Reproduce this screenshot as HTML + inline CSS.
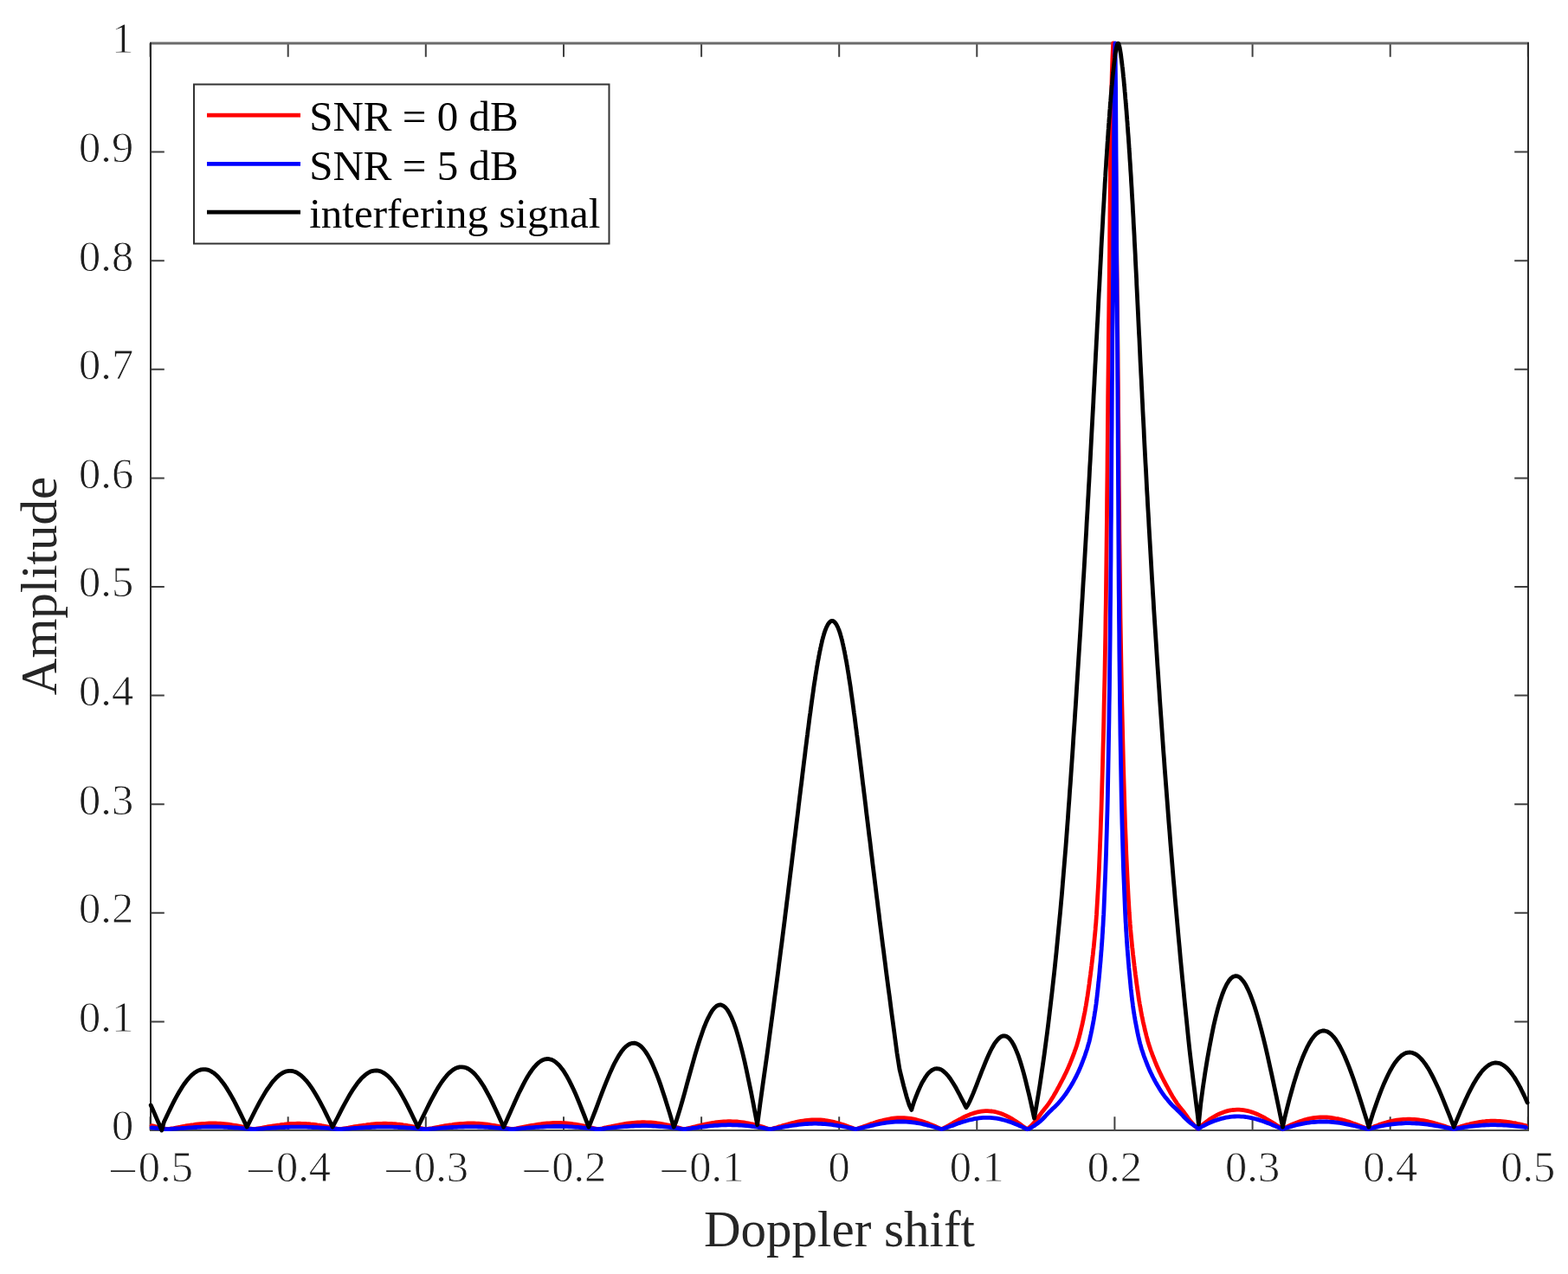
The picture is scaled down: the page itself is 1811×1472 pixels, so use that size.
<!DOCTYPE html>
<html><head><meta charset="utf-8"><title>Doppler shift amplitude</title>
<style>
html,body{margin:0;padding:0;background:#fff;}
body{width:1811px;height:1472px;overflow:hidden;}
svg{display:block;}
.tk{font-family:"Liberation Serif","DejaVu Serif",serif;font-size:50.5px;fill:#1e1e1e;stroke:#fff;stroke-width:0.8px;paint-order:fill;}
.lg{font-family:"Liberation Serif","DejaVu Serif",serif;font-size:49px;fill:#000;}
.lb{font-family:"Liberation Serif","DejaVu Serif",serif;font-size:59px;fill:#262626;}
</style></head>
<body>
<svg width="1811" height="1472" viewBox="0 0 1811 1472">
<rect width="1811" height="1472" fill="#fff"/>
<g fill="none" stroke="#404040" stroke-width="2">
<path d="M173.6 1306V1290.2M173.6 50V65.8M332.7 1306V1290.2M332.7 50V65.8M491.8 1306V1290.2M491.8 50V65.8M651.0 1306V1290.2M651.0 50V65.8M810.1 1306V1290.2M810.1 50V65.8M969.2 1306V1290.2M969.2 50V65.8M1128.3 1306V1290.2M1128.3 50V65.8M1287.4 1306V1290.2M1287.4 50V65.8M1446.6 1306V1290.2M1446.6 50V65.8M1605.7 1306V1290.2M1605.7 50V65.8M1764.8 1306V1290.2M1764.8 50V65.8M174 1306.0H189.8M1765 1306.0H1749.2M174 1180.4H189.8M1765 1180.4H1749.2M174 1054.8H189.8M1765 1054.8H1749.2M174 929.2H189.8M1765 929.2H1749.2M174 803.6H189.8M1765 803.6H1749.2M174 678.0H189.8M1765 678.0H1749.2M174 552.4H189.8M1765 552.4H1749.2M174 426.8H189.8M1765 426.8H1749.2M174 301.2H189.8M1765 301.2H1749.2M174 175.6H189.8M1765 175.6H1749.2M174 50.0H189.8M1765 50.0H1749.2"/>
</g>
<path fill="none" stroke="#6b6b6b" stroke-width="3" d="M173 50H1766"/>
<path fill="none" stroke="#2b2b2b" stroke-width="2" d="M174 49V1307M1765 49V1307"/>
<path fill="none" stroke="#4a4a4a" stroke-width="2" d="M173 1306H1766"/>
<g fill="none" stroke-linejoin="round" stroke-linecap="round" stroke-width="4.8">
<path stroke="#ff0000" d="M175.1 1300.7L177.7 1301.2L180.2 1301.8L182.8 1302.3L185.3 1302.9L187.9 1303.5L190.4 1304.1L193.0 1304.7L195.6 1304.4L198.1 1303.9L200.7 1303.5L203.2 1303.0L205.8 1302.5L208.3 1302.1L210.9 1301.6L213.4 1301.2L216.0 1300.7L218.5 1300.3L221.1 1299.9L223.6 1299.6L226.2 1299.2L228.7 1298.9L231.3 1298.7L233.8 1298.5L236.4 1298.3L238.9 1298.1L241.5 1298.0L244.0 1298.0L246.6 1298.0L249.1 1298.0L251.7 1298.1L254.2 1298.2L256.8 1298.4L259.3 1298.6L261.9 1298.9L264.4 1299.2L267.0 1299.6L269.5 1300.0L272.1 1300.4L274.6 1300.9L277.2 1301.4L279.7 1301.9L282.3 1302.4L284.8 1303.0L287.4 1303.6L289.9 1304.1L292.5 1304.7L295.1 1304.4L297.6 1303.9L300.2 1303.5L302.7 1303.1L305.3 1302.6L307.8 1302.2L310.4 1301.7L312.9 1301.3L315.5 1300.9L318.0 1300.5L320.6 1300.1L323.1 1299.8L325.7 1299.4L328.2 1299.2L330.8 1298.9L333.3 1298.7L335.9 1298.5L338.4 1298.4L341.0 1298.3L343.5 1298.2L346.1 1298.2L348.6 1298.3L351.2 1298.3L353.7 1298.5L356.3 1298.6L358.8 1298.9L361.4 1299.1L363.9 1299.4L366.5 1299.8L369.0 1300.1L371.6 1300.6L374.1 1301.0L376.7 1301.5L379.2 1302.0L381.8 1302.5L384.3 1303.0L386.9 1303.6L389.4 1304.2L392.0 1304.7L394.6 1304.4L397.1 1303.9L399.7 1303.5L402.2 1303.1L404.8 1302.6L407.3 1302.2L409.9 1301.7L412.4 1301.3L415.0 1300.9L417.5 1300.5L420.1 1300.1L422.6 1299.8L425.2 1299.4L427.7 1299.2L430.3 1298.9L432.8 1298.7L435.4 1298.5L437.9 1298.4L440.5 1298.3L443.0 1298.2L445.6 1298.2L448.1 1298.3L450.7 1298.3L453.2 1298.5L455.8 1298.6L458.3 1298.9L460.9 1299.1L463.4 1299.4L466.0 1299.8L468.5 1300.1L471.1 1300.6L473.6 1301.0L476.2 1301.5L478.7 1302.0L481.3 1302.5L483.8 1303.0L486.4 1303.6L488.9 1304.2L491.5 1304.7L494.1 1304.4L496.6 1303.9L499.2 1303.5L501.7 1303.0L504.3 1302.5L506.8 1302.1L509.4 1301.6L511.9 1301.2L514.5 1300.7L517.0 1300.3L519.6 1299.9L522.1 1299.6L524.7 1299.2L527.2 1298.9L529.8 1298.7L532.3 1298.5L534.9 1298.3L537.4 1298.1L540.0 1298.0L542.5 1298.0L545.1 1298.0L547.6 1298.0L550.2 1298.1L552.7 1298.2L555.3 1298.4L557.8 1298.6L560.4 1298.9L562.9 1299.2L565.5 1299.6L568.0 1300.0L570.6 1300.4L573.1 1300.9L575.7 1301.4L578.2 1301.9L580.8 1302.4L583.3 1303.0L585.9 1303.6L588.4 1304.1L591.0 1304.7L593.6 1304.3L596.1 1303.9L598.7 1303.4L601.2 1302.9L603.8 1302.4L606.3 1301.9L608.9 1301.4L611.4 1300.9L614.0 1300.4L616.5 1300.0L619.1 1299.6L621.6 1299.2L624.2 1298.8L626.7 1298.5L629.3 1298.2L631.8 1298.0L634.4 1297.8L636.9 1297.6L639.5 1297.5L642.0 1297.5L644.6 1297.5L647.1 1297.5L649.7 1297.6L652.2 1297.7L654.8 1297.9L657.3 1298.2L659.9 1298.5L662.4 1298.8L665.0 1299.2L667.5 1299.6L670.1 1300.1L672.6 1300.6L675.2 1301.1L677.7 1301.7L680.3 1302.2L682.8 1302.9L685.4 1303.5L687.9 1304.1L690.5 1304.7L693.1 1304.3L695.6 1303.8L698.2 1303.2L700.7 1302.7L703.3 1302.1L705.8 1301.6L708.4 1301.0L710.9 1300.5L713.5 1300.0L716.0 1299.5L718.6 1299.0L721.1 1298.6L723.7 1298.2L726.2 1297.9L728.8 1297.6L731.3 1297.3L733.9 1297.1L736.4 1296.9L739.0 1296.8L741.5 1296.7L744.1 1296.7L746.6 1296.8L749.2 1296.9L751.7 1297.0L754.3 1297.2L756.8 1297.5L759.4 1297.8L761.9 1298.2L764.5 1298.6L767.0 1299.1L769.6 1299.6L772.1 1300.1L774.7 1300.7L777.2 1301.3L779.8 1302.0L782.3 1302.7L784.9 1303.3L787.4 1304.0L790.0 1304.7L792.6 1304.2L795.1 1303.6L797.7 1303.0L800.2 1302.4L802.8 1301.8L805.3 1301.2L807.9 1300.6L810.4 1300.0L813.0 1299.4L815.5 1298.8L818.1 1298.3L820.6 1297.8L823.2 1297.4L825.7 1297.0L828.3 1296.7L830.8 1296.4L833.4 1296.1L835.9 1295.9L838.5 1295.8L841.0 1295.7L843.6 1295.7L846.1 1295.8L848.7 1295.9L851.2 1296.0L853.8 1296.3L856.3 1296.6L858.9 1296.9L861.4 1297.4L864.0 1297.8L866.5 1298.4L869.1 1298.9L871.6 1299.6L874.2 1300.2L876.7 1300.9L879.3 1301.6L881.8 1302.4L884.4 1303.2L886.9 1304.0L889.5 1304.7L892.0 1304.1L894.6 1303.4L897.1 1302.7L899.6 1301.9L902.2 1301.2L904.7 1300.4L907.2 1299.7L909.7 1299.0L912.3 1298.3L914.8 1297.6L917.3 1297.0L919.9 1296.4L922.4 1295.9L924.9 1295.4L927.5 1295.0L930.0 1294.6L932.5 1294.3L935.1 1294.1L937.6 1293.9L940.1 1293.8L942.6 1293.8L945.2 1293.9L947.7 1294.0L950.2 1294.2L952.8 1294.5L955.3 1294.9L957.8 1295.3L960.4 1295.8L962.9 1296.4L965.4 1297.0L968.0 1297.7L970.5 1298.5L973.0 1299.3L975.5 1300.1L978.1 1301.0L980.6 1301.9L983.1 1302.8L985.7 1303.8L988.2 1304.7L990.7 1304.0L993.3 1303.1L995.8 1302.2L998.4 1301.3L1000.9 1300.4L1003.5 1299.5L1006.0 1298.6L1008.6 1297.8L1011.1 1296.9L1013.7 1296.1L1016.2 1295.4L1018.8 1294.7L1021.3 1294.0L1023.8 1293.5L1026.4 1293.0L1028.9 1292.5L1031.5 1292.2L1034.0 1291.9L1036.6 1291.7L1039.1 1291.6L1041.7 1291.6L1044.2 1291.6L1046.8 1291.8L1049.3 1292.1L1051.9 1292.4L1054.4 1292.8L1056.9 1293.4L1059.5 1294.0L1062.0 1294.7L1064.6 1295.4L1067.1 1296.3L1069.7 1297.2L1072.2 1298.1L1074.8 1299.2L1077.3 1300.2L1079.9 1301.3L1082.4 1302.4L1085.0 1303.6L1087.5 1304.7L1090.0 1303.5L1092.6 1302.2L1095.1 1300.8L1097.6 1299.3L1100.2 1297.9L1102.7 1296.4L1105.2 1295.0L1107.8 1293.6L1110.3 1292.3L1112.8 1291.0L1115.4 1289.8L1117.9 1288.7L1120.4 1287.6L1123.0 1286.7L1125.5 1285.9L1128.0 1285.2L1130.6 1284.6L1133.1 1284.2L1135.6 1283.8L1138.2 1283.7L1140.7 1283.7L1143.2 1283.8L1145.8 1284.0L1148.3 1284.4L1150.8 1285.0L1153.4 1285.7L1155.9 1286.5L1158.4 1287.5L1161.0 1288.6L1163.5 1289.9L1166.0 1291.2L1168.6 1292.6L1171.1 1294.2L1173.6 1295.8L1176.2 1297.5L1178.7 1299.3L1181.2 1301.1L1183.8 1302.9L1186.3 1304.7L1187.4 1304.1L1189.6 1302.0L1191.8 1299.9L1193.7 1297.8L1195.6 1295.7L1197.2 1293.6L1198.8 1291.5L1200.2 1289.5L1201.7 1287.4L1203.2 1285.3L1204.9 1283.2L1206.6 1281.1L1208.3 1279.0L1209.9 1276.9L1211.4 1274.8L1212.9 1272.7L1214.2 1270.6L1215.5 1268.5L1216.8 1266.4L1218.0 1264.3L1219.2 1262.2L1220.4 1260.1L1221.5 1258.0L1222.7 1255.9L1223.8 1253.8L1224.9 1251.7L1226.0 1249.6L1227.1 1247.5L1228.2 1245.5L1229.2 1243.4L1230.2 1241.3L1231.3 1239.2L1232.2 1237.1L1233.2 1235.0L1234.1 1232.9L1235.0 1230.8L1235.9 1228.7L1236.7 1226.6L1237.6 1224.5L1238.4 1222.4L1239.2 1220.3L1240.0 1218.2L1240.8 1216.1L1241.5 1214.0L1242.3 1211.9L1243.0 1209.8L1243.7 1207.7L1244.3 1205.6L1244.9 1203.6L1245.5 1201.5L1246.1 1199.4L1246.6 1197.3L1247.2 1195.2L1247.7 1193.1L1248.2 1191.0L1248.7 1188.9L1249.2 1186.8L1249.7 1184.7L1250.2 1182.6L1250.6 1180.5L1251.1 1178.4L1251.5 1176.3L1251.9 1174.2L1252.3 1172.1L1252.8 1170.0L1253.2 1167.9L1253.5 1165.8L1253.9 1163.7L1254.3 1161.6L1254.6 1159.6L1255.0 1157.5L1255.3 1155.4L1255.6 1153.3L1256.0 1151.2L1256.3 1149.1L1256.6 1147.0L1256.9 1144.9L1257.2 1142.8L1257.5 1140.7L1257.8 1138.6L1258.1 1136.5L1258.3 1134.4L1258.6 1132.3L1258.9 1130.2L1259.2 1128.1L1259.5 1126.0L1259.7 1123.9L1260.0 1121.8L1260.3 1119.7L1260.5 1117.7L1260.8 1115.6L1261.0 1113.5L1261.3 1111.4L1261.5 1109.3L1261.8 1107.2L1262.0 1105.1L1262.3 1103.0L1262.5 1100.9L1262.7 1098.8L1262.9 1096.7L1263.2 1094.6L1263.4 1092.5L1263.6 1090.4L1263.8 1088.3L1264.0 1086.2L1264.2 1084.1L1264.4 1082.0L1264.6 1079.9L1264.8 1077.8L1265.0 1075.8L1265.2 1073.7L1265.3 1071.6L1265.5 1069.5L1265.7 1067.4L1265.9 1065.3L1266.0 1063.2L1266.2 1061.1L1266.3 1059.0L1266.5 1056.9L1266.6 1054.8L1267.6 1037.8L1268.6 1020.7L1269.4 1003.7L1270.1 986.7L1270.8 969.6L1271.4 952.6L1272.0 935.6L1272.5 918.6L1273.0 901.5L1273.5 884.5L1273.9 867.5L1274.4 850.4L1274.8 833.4L1275.1 816.4L1275.5 799.3L1275.9 782.3L1276.2 765.3L1276.5 748.3L1276.8 731.2L1277.0 714.2L1277.3 697.2L1277.5 680.1L1277.7 663.1L1277.9 646.1L1278.1 629.0L1278.3 612.0L1278.5 595.0L1278.6 577.9L1278.8 560.9L1279.0 543.9L1279.1 526.9L1279.3 509.8L1279.4 492.8L1279.6 475.8L1279.7 458.7L1279.9 441.7L1280.1 424.7L1280.3 407.6L1280.4 390.6L1280.6 373.6L1280.8 356.5L1281.0 339.5L1281.2 322.5L1281.4 305.5L1281.6 288.4L1281.7 271.4L1281.9 254.4L1282.1 237.3L1282.2 220.3L1282.4 203.3L1282.6 186.2L1282.9 169.2L1283.1 152.2L1283.3 135.2L1283.6 118.1L1283.9 101.1L1284.3 84.1L1284.9 67.0L1285.7 50.0L1286.5 67.0L1287.1 84.1L1287.5 101.1L1287.8 118.1L1288.0 135.2L1288.3 152.2L1288.5 169.2L1288.7 186.2L1288.9 203.3L1289.1 220.3L1289.2 237.3L1289.4 254.4L1289.6 271.4L1289.7 288.4L1289.9 305.5L1290.1 322.5L1290.2 339.5L1290.4 356.5L1290.6 373.6L1290.8 390.6L1291.0 407.6L1291.1 424.7L1291.3 441.7L1291.5 458.7L1291.6 475.8L1291.8 492.8L1291.9 509.8L1292.1 526.9L1292.2 543.9L1292.3 560.9L1292.5 577.9L1292.7 595.0L1292.8 612.0L1293.0 629.0L1293.2 646.1L1293.4 663.1L1293.6 680.1L1293.8 697.2L1294.0 714.2L1294.3 731.2L1294.6 748.3L1294.9 765.3L1295.2 782.3L1295.5 799.3L1295.9 816.4L1296.3 833.4L1296.7 850.4L1297.1 867.5L1297.5 884.5L1298.0 901.5L1298.5 918.6L1299.0 935.6L1299.5 952.6L1300.2 969.6L1300.8 986.7L1301.6 1003.7L1302.4 1020.7L1303.3 1037.8L1304.3 1054.8L1304.5 1056.9L1304.6 1059.0L1304.7 1061.1L1304.9 1063.2L1305.1 1065.3L1305.2 1067.4L1305.4 1069.5L1305.6 1071.6L1305.7 1073.7L1305.9 1075.8L1306.1 1077.8L1306.3 1079.9L1306.5 1082.0L1306.7 1084.1L1306.9 1086.2L1307.1 1088.3L1307.3 1090.4L1307.5 1092.5L1307.7 1094.6L1308.0 1096.7L1308.2 1098.8L1308.4 1100.9L1308.6 1103.0L1308.9 1105.1L1309.1 1107.2L1309.4 1109.3L1309.6 1111.4L1309.9 1113.5L1310.1 1115.6L1310.4 1117.7L1310.6 1119.7L1310.9 1121.8L1311.2 1123.9L1311.4 1126.0L1311.7 1128.1L1312.0 1130.2L1312.3 1132.3L1312.5 1134.4L1312.8 1136.5L1313.1 1138.6L1313.4 1140.7L1313.7 1142.8L1314.0 1144.9L1314.3 1147.0L1314.6 1149.1L1314.9 1151.2L1315.2 1153.3L1315.5 1155.4L1315.9 1157.5L1316.2 1159.6L1316.6 1161.6L1317.0 1163.7L1317.3 1165.8L1317.7 1167.9L1318.1 1170.0L1318.5 1172.1L1318.9 1174.2L1319.4 1176.3L1319.8 1178.4L1320.2 1180.5L1320.7 1182.6L1321.2 1184.7L1321.7 1186.8L1322.1 1188.9L1322.6 1191.0L1323.2 1193.1L1323.7 1195.2L1324.2 1197.3L1324.8 1199.4L1325.3 1201.5L1325.9 1203.6L1326.5 1205.6L1327.2 1207.7L1327.9 1209.8L1328.6 1211.9L1329.3 1214.0L1330.1 1216.1L1330.8 1218.2L1331.6 1220.3L1332.5 1222.4L1333.3 1224.5L1334.1 1226.6L1335.0 1228.7L1335.8 1230.8L1336.7 1232.9L1337.7 1235.0L1338.6 1237.1L1339.6 1239.2L1340.6 1241.3L1341.6 1243.4L1342.7 1245.5L1343.7 1247.5L1344.8 1249.6L1345.9 1251.7L1347.0 1253.8L1348.2 1255.9L1349.3 1258.0L1350.5 1260.1L1351.6 1262.2L1352.8 1264.3L1354.0 1266.4L1355.3 1268.5L1356.6 1270.6L1358.0 1272.7L1359.4 1274.8L1360.9 1276.9L1362.5 1279.0L1364.2 1281.1L1366.0 1283.2L1367.6 1285.3L1369.1 1287.4L1370.6 1289.5L1372.0 1291.5L1373.6 1293.6L1375.2 1295.7L1377.1 1297.8L1379.0 1299.9L1381.2 1302.0L1383.4 1304.1L1383.2 1304.1L1385.7 1302.3L1388.2 1300.1L1390.8 1298.1L1393.3 1296.2L1395.8 1294.3L1398.3 1292.6L1400.8 1291.1L1403.4 1289.6L1405.9 1288.2L1408.4 1287.0L1410.9 1285.9L1413.4 1285.0L1416.0 1284.1L1418.5 1283.4L1421.0 1282.9L1423.5 1282.5L1426.0 1282.3L1428.6 1282.1L1431.1 1282.2L1433.6 1282.3L1436.1 1282.6L1438.7 1283.1L1441.2 1283.6L1443.7 1284.3L1446.2 1285.1L1448.7 1286.0L1451.3 1287.0L1453.8 1288.2L1456.3 1289.4L1458.8 1290.7L1461.3 1292.0L1463.9 1293.5L1466.4 1295.0L1468.9 1296.5L1471.4 1298.1L1473.9 1299.8L1476.5 1301.4L1479.0 1303.1L1481.5 1304.7L1484.0 1303.2L1486.6 1301.9L1489.1 1300.7L1491.7 1299.5L1494.2 1298.4L1496.7 1297.4L1499.3 1296.4L1501.8 1295.5L1504.3 1294.7L1506.9 1293.9L1509.4 1293.2L1512.0 1292.7L1514.5 1292.2L1517.0 1291.7L1519.6 1291.4L1522.1 1291.2L1524.7 1291.0L1527.2 1290.9L1529.7 1290.9L1532.3 1291.0L1534.8 1291.2L1537.3 1291.5L1539.9 1291.8L1542.4 1292.3L1545.0 1292.7L1547.5 1293.3L1550.0 1293.9L1552.6 1294.6L1555.1 1295.4L1557.7 1296.1L1560.2 1297.0L1562.7 1297.9L1565.3 1298.8L1567.8 1299.7L1570.3 1300.7L1572.9 1301.7L1575.4 1302.7L1578.0 1303.7L1580.5 1304.7L1583.0 1303.5L1585.6 1302.4L1588.1 1301.3L1590.6 1300.4L1593.1 1299.4L1595.7 1298.6L1598.2 1297.7L1600.7 1297.0L1603.2 1296.3L1605.8 1295.7L1608.3 1295.1L1610.8 1294.6L1613.3 1294.2L1615.9 1293.9L1618.4 1293.6L1620.9 1293.4L1623.4 1293.3L1626.0 1293.2L1628.5 1293.2L1631.0 1293.3L1633.5 1293.4L1636.1 1293.7L1638.6 1294.0L1641.1 1294.3L1643.6 1294.7L1646.2 1295.2L1648.7 1295.7L1651.2 1296.3L1653.7 1296.9L1656.3 1297.6L1658.8 1298.3L1661.3 1299.0L1663.8 1299.8L1666.4 1300.6L1668.9 1301.4L1671.4 1302.2L1673.9 1303.0L1676.5 1303.9L1679.0 1304.7L1681.5 1303.7L1684.1 1302.8L1686.6 1301.9L1689.1 1301.1L1691.6 1300.4L1694.2 1299.6L1696.7 1299.0L1699.2 1298.3L1701.7 1297.8L1704.3 1297.3L1706.8 1296.8L1709.3 1296.4L1711.8 1296.0L1714.4 1295.8L1716.9 1295.5L1719.4 1295.4L1721.9 1295.2L1724.5 1295.2L1727.0 1295.2L1729.5 1295.3L1732.0 1295.4L1734.6 1295.6L1737.1 1295.8L1739.6 1296.1L1742.1 1296.5L1744.7 1296.8L1747.2 1297.3L1749.7 1297.7L1752.2 1298.3L1754.8 1298.8L1757.3 1299.4L1759.8 1300.0L1762.3 1300.6"/>
<path stroke="#0000ff" d="M175.1 1303.0L177.7 1303.2L180.2 1303.5L182.8 1303.7L185.3 1304.0L187.9 1304.2L190.4 1304.5L193.0 1304.7L195.6 1304.6L198.1 1304.4L200.7 1304.2L203.2 1304.0L205.8 1303.8L208.3 1303.7L210.9 1303.5L213.4 1303.3L216.0 1303.1L218.5 1302.9L221.1 1302.8L223.6 1302.6L226.2 1302.5L228.7 1302.4L231.3 1302.3L233.8 1302.2L236.4 1302.1L238.9 1302.0L241.5 1302.0L244.0 1302.0L246.6 1302.0L249.1 1302.0L251.7 1302.0L254.2 1302.1L256.8 1302.2L259.3 1302.3L261.9 1302.4L264.4 1302.5L267.0 1302.6L269.5 1302.8L272.1 1303.0L274.6 1303.2L277.2 1303.4L279.7 1303.6L282.3 1303.8L284.8 1304.0L287.4 1304.3L289.9 1304.5L292.5 1304.7L295.1 1304.6L297.6 1304.4L300.2 1304.2L302.7 1304.1L305.3 1303.9L307.8 1303.7L310.4 1303.5L312.9 1303.4L315.5 1303.2L318.0 1303.0L320.6 1302.9L323.1 1302.7L325.7 1302.6L328.2 1302.5L330.8 1302.4L333.3 1302.3L335.9 1302.2L338.4 1302.2L341.0 1302.1L343.5 1302.1L346.1 1302.1L348.6 1302.1L351.2 1302.2L353.7 1302.2L356.3 1302.3L358.8 1302.4L361.4 1302.5L363.9 1302.6L366.5 1302.7L369.0 1302.9L371.6 1303.1L374.1 1303.2L376.7 1303.4L379.2 1303.6L381.8 1303.8L384.3 1304.1L386.9 1304.3L389.4 1304.5L392.0 1304.7L394.6 1304.6L397.1 1304.4L399.7 1304.2L402.2 1304.1L404.8 1303.9L407.3 1303.7L409.9 1303.5L412.4 1303.4L415.0 1303.2L417.5 1303.0L420.1 1302.9L422.6 1302.7L425.2 1302.6L427.7 1302.5L430.3 1302.4L432.8 1302.3L435.4 1302.2L437.9 1302.2L440.5 1302.1L443.0 1302.1L445.6 1302.1L448.1 1302.1L450.7 1302.2L453.2 1302.2L455.8 1302.3L458.3 1302.4L460.9 1302.5L463.4 1302.6L466.0 1302.7L468.5 1302.9L471.1 1303.1L473.6 1303.2L476.2 1303.4L478.7 1303.6L481.3 1303.8L483.8 1304.1L486.4 1304.3L488.9 1304.5L491.5 1304.7L494.1 1304.6L496.6 1304.4L499.2 1304.2L501.7 1304.0L504.3 1303.8L506.8 1303.6L509.4 1303.4L511.9 1303.2L514.5 1303.0L517.0 1302.9L519.6 1302.7L522.1 1302.5L524.7 1302.4L527.2 1302.3L529.8 1302.2L532.3 1302.1L534.9 1302.0L537.4 1301.9L540.0 1301.9L542.5 1301.9L545.1 1301.9L547.6 1301.9L550.2 1301.9L552.7 1302.0L555.3 1302.0L557.8 1302.1L560.4 1302.3L562.9 1302.4L565.5 1302.5L568.0 1302.7L570.6 1302.9L573.1 1303.1L575.7 1303.3L578.2 1303.5L580.8 1303.8L583.3 1304.0L585.9 1304.2L588.4 1304.5L591.0 1304.7L593.6 1304.6L596.1 1304.3L598.7 1304.1L601.2 1303.9L603.8 1303.7L606.3 1303.5L608.9 1303.2L611.4 1303.0L614.0 1302.8L616.5 1302.6L619.1 1302.4L621.6 1302.3L624.2 1302.1L626.7 1302.0L629.3 1301.8L631.8 1301.7L634.4 1301.6L636.9 1301.6L639.5 1301.5L642.0 1301.5L644.6 1301.5L647.1 1301.5L649.7 1301.5L652.2 1301.6L654.8 1301.7L657.3 1301.8L659.9 1301.9L662.4 1302.1L665.0 1302.3L667.5 1302.4L670.1 1302.6L672.6 1302.9L675.2 1303.1L677.7 1303.4L680.3 1303.6L682.8 1303.9L685.4 1304.2L687.9 1304.5L690.5 1304.7L693.1 1304.5L695.6 1304.3L698.2 1304.0L700.7 1303.7L703.3 1303.4L705.8 1303.2L708.4 1302.9L710.9 1302.6L713.5 1302.4L716.0 1302.1L718.6 1301.9L721.1 1301.7L723.7 1301.5L726.2 1301.3L728.8 1301.2L731.3 1301.0L733.9 1300.9L736.4 1300.8L739.0 1300.8L741.5 1300.7L744.1 1300.7L746.6 1300.7L749.2 1300.8L751.7 1300.9L754.3 1301.0L756.8 1301.1L759.4 1301.3L761.9 1301.5L764.5 1301.7L767.0 1301.9L769.6 1302.2L772.1 1302.4L774.7 1302.7L777.2 1303.0L779.8 1303.4L782.3 1303.7L784.9 1304.0L787.4 1304.4L790.0 1304.7L792.6 1304.5L795.1 1304.1L797.7 1303.8L800.2 1303.4L802.8 1303.1L805.3 1302.8L807.9 1302.4L810.4 1302.1L813.0 1301.8L815.5 1301.5L818.1 1301.2L820.6 1300.9L823.2 1300.7L825.7 1300.4L828.3 1300.3L830.8 1300.1L833.4 1299.9L835.9 1299.8L838.5 1299.8L841.0 1299.7L843.6 1299.7L846.1 1299.8L848.7 1299.8L851.2 1299.9L853.8 1300.0L856.3 1300.2L858.9 1300.4L861.4 1300.6L864.0 1300.9L866.5 1301.2L869.1 1301.5L871.6 1301.9L874.2 1302.2L876.7 1302.6L879.3 1303.0L881.8 1303.4L884.4 1303.9L886.9 1304.3L889.5 1304.7L892.0 1304.4L894.6 1303.9L897.1 1303.5L899.6 1303.1L902.2 1302.6L904.7 1302.2L907.2 1301.7L909.7 1301.3L912.3 1300.9L914.8 1300.5L917.3 1300.1L919.9 1299.8L922.4 1299.4L924.9 1299.2L927.5 1298.9L930.0 1298.7L932.5 1298.5L935.1 1298.4L937.6 1298.3L940.1 1298.2L942.6 1298.2L945.2 1298.3L947.7 1298.3L950.2 1298.5L952.8 1298.6L955.3 1298.9L957.8 1299.1L960.4 1299.4L962.9 1299.8L965.4 1300.1L968.0 1300.6L970.5 1301.0L973.0 1301.5L975.5 1302.0L978.1 1302.5L980.6 1303.0L983.1 1303.6L985.7 1304.2L988.2 1304.7L990.7 1304.2L993.3 1303.7L995.8 1303.1L998.4 1302.5L1000.9 1301.9L1003.5 1301.3L1006.0 1300.7L1008.6 1300.1L1011.1 1299.5L1013.7 1299.0L1016.2 1298.5L1018.8 1298.0L1021.3 1297.6L1023.8 1297.2L1026.4 1296.9L1028.9 1296.6L1031.5 1296.4L1034.0 1296.2L1036.6 1296.0L1039.1 1296.0L1041.7 1296.0L1044.2 1296.0L1046.8 1296.1L1049.3 1296.3L1051.9 1296.5L1054.4 1296.8L1056.9 1297.2L1059.5 1297.6L1062.0 1298.0L1064.6 1298.5L1067.1 1299.1L1069.7 1299.7L1072.2 1300.3L1074.8 1301.0L1077.3 1301.7L1079.9 1302.5L1082.4 1303.2L1085.0 1304.0L1087.5 1304.7L1090.0 1304.0L1092.6 1303.1L1095.1 1302.2L1097.6 1301.3L1100.2 1300.4L1102.7 1299.4L1105.2 1298.5L1107.8 1297.6L1110.3 1296.8L1112.8 1296.0L1115.4 1295.2L1117.9 1294.5L1120.4 1293.8L1123.0 1293.3L1125.5 1292.7L1128.0 1292.3L1130.6 1291.9L1133.1 1291.6L1135.6 1291.4L1138.2 1291.3L1140.7 1291.3L1143.2 1291.4L1145.8 1291.6L1148.3 1291.8L1150.8 1292.2L1153.4 1292.6L1155.9 1293.2L1158.4 1293.8L1161.0 1294.5L1163.5 1295.3L1166.0 1296.1L1168.6 1297.0L1171.1 1298.0L1173.6 1299.1L1176.2 1300.1L1178.7 1301.2L1181.2 1302.4L1183.8 1303.6L1186.3 1304.7L1189.0 1304.1L1192.4 1302.0L1195.7 1299.9L1198.6 1297.8L1201.3 1295.7L1203.6 1293.6L1205.6 1291.5L1207.5 1289.5L1209.4 1287.4L1211.4 1285.3L1213.6 1283.2L1215.8 1281.1L1218.1 1279.0L1220.2 1276.9L1222.2 1274.8L1224.0 1272.7L1225.8 1270.6L1227.5 1268.5L1229.1 1266.4L1230.7 1264.3L1232.1 1262.2L1233.5 1260.1L1234.8 1258.0L1236.1 1255.9L1237.4 1253.8L1238.6 1251.7L1239.8 1249.6L1240.9 1247.5L1242.0 1245.5L1243.1 1243.4L1244.1 1241.3L1245.1 1239.2L1246.1 1237.1L1247.0 1235.0L1247.9 1232.9L1248.8 1230.8L1249.6 1228.7L1250.4 1226.6L1251.2 1224.5L1252.0 1222.4L1252.8 1220.3L1253.5 1218.2L1254.2 1216.1L1254.9 1214.0L1255.6 1211.9L1256.2 1209.8L1256.8 1207.7L1257.4 1205.6L1258.0 1203.6L1258.5 1201.5L1259.0 1199.4L1259.4 1197.3L1259.9 1195.2L1260.3 1193.1L1260.8 1191.0L1261.2 1188.9L1261.6 1186.8L1262.0 1184.7L1262.4 1182.6L1262.8 1180.5L1263.2 1178.4L1263.5 1176.3L1263.9 1174.2L1264.2 1172.1L1264.5 1170.0L1264.9 1167.9L1265.2 1165.8L1265.5 1163.7L1265.8 1161.6L1266.1 1159.6L1266.3 1157.5L1266.6 1155.4L1266.8 1153.3L1267.1 1151.2L1267.3 1149.1L1267.5 1147.0L1267.8 1144.9L1268.0 1142.8L1268.2 1140.7L1268.4 1138.6L1268.6 1136.5L1268.9 1134.4L1269.1 1132.3L1269.3 1130.2L1269.5 1128.1L1269.7 1126.0L1269.9 1123.9L1270.1 1121.8L1270.2 1119.7L1270.4 1117.7L1270.6 1115.6L1270.8 1113.5L1271.0 1111.4L1271.2 1109.3L1271.3 1107.2L1271.5 1105.1L1271.7 1103.0L1271.8 1100.9L1272.0 1098.8L1272.2 1096.7L1272.3 1094.6L1272.5 1092.5L1272.6 1090.4L1272.8 1088.3L1272.9 1086.2L1273.1 1084.1L1273.2 1082.0L1273.3 1079.9L1273.5 1077.8L1273.6 1075.8L1273.7 1073.7L1273.8 1071.6L1274.0 1069.5L1274.1 1067.4L1274.2 1065.3L1274.3 1063.2L1274.4 1061.1L1274.5 1059.0L1274.7 1056.9L1274.8 1054.8L1275.5 1037.8L1276.2 1020.7L1276.9 1003.7L1277.5 986.7L1278.0 969.6L1278.5 952.6L1279.0 935.6L1279.4 918.6L1279.7 901.5L1280.0 884.5L1280.3 867.5L1280.6 850.4L1280.9 833.4L1281.1 816.4L1281.4 799.3L1281.6 782.3L1281.8 765.3L1282.0 748.3L1282.2 731.2L1282.3 714.2L1282.5 697.2L1282.7 680.1L1282.8 663.1L1283.0 646.1L1283.1 629.0L1283.2 612.0L1283.4 595.0L1283.5 577.9L1283.6 560.9L1283.7 543.9L1283.8 526.9L1283.9 509.8L1284.1 492.8L1284.2 475.8L1284.3 458.7L1284.4 441.7L1284.6 424.7L1284.7 407.6L1284.8 390.6L1285.0 373.6L1285.2 356.5L1285.4 339.5L1285.5 322.5L1285.7 305.5L1285.8 288.4L1285.9 271.4L1286.0 254.4L1286.2 237.3L1286.3 220.3L1286.4 203.3L1286.5 186.2L1286.6 169.2L1286.7 152.2L1286.9 135.2L1287.0 118.1L1287.1 101.1L1287.3 84.1L1287.6 67.0L1287.9 50.0L1288.2 67.0L1288.4 84.1L1288.6 101.1L1288.7 118.1L1288.8 135.2L1288.9 152.2L1289.0 169.2L1289.1 186.2L1289.2 203.3L1289.3 220.3L1289.4 237.3L1289.5 254.4L1289.5 271.4L1289.6 288.4L1289.7 305.5L1289.9 322.5L1290.0 339.5L1290.2 356.5L1290.3 373.6L1290.5 390.6L1290.6 407.6L1290.7 424.7L1290.8 441.7L1290.9 458.7L1291.0 475.8L1291.1 492.8L1291.2 509.8L1291.3 526.9L1291.4 543.9L1291.5 560.9L1291.6 577.9L1291.7 595.0L1291.8 612.0L1291.9 629.0L1292.0 646.1L1292.1 663.1L1292.2 680.1L1292.4 697.2L1292.5 714.2L1292.7 731.2L1292.8 748.3L1293.0 765.3L1293.2 782.3L1293.4 799.3L1293.6 816.4L1293.8 833.4L1294.0 850.4L1294.3 867.5L1294.6 884.5L1294.9 901.5L1295.2 918.6L1295.6 935.6L1296.0 952.6L1296.5 969.6L1297.0 986.7L1297.5 1003.7L1298.2 1020.7L1298.9 1037.8L1299.6 1054.8L1299.7 1056.9L1299.8 1059.0L1299.9 1061.1L1300.0 1063.2L1300.1 1065.3L1300.3 1067.4L1300.4 1069.5L1300.5 1071.6L1300.6 1073.7L1300.7 1075.8L1300.9 1077.8L1301.0 1079.9L1301.1 1082.0L1301.3 1084.1L1301.4 1086.2L1301.5 1088.3L1301.7 1090.4L1301.8 1092.5L1302.0 1094.6L1302.1 1096.7L1302.3 1098.8L1302.5 1100.9L1302.6 1103.0L1302.8 1105.1L1303.0 1107.2L1303.1 1109.3L1303.3 1111.4L1303.5 1113.5L1303.7 1115.6L1303.8 1117.7L1304.0 1119.7L1304.2 1121.8L1304.4 1123.9L1304.6 1126.0L1304.8 1128.1L1305.0 1130.2L1305.2 1132.3L1305.4 1134.4L1305.6 1136.5L1305.8 1138.6L1306.0 1140.7L1306.2 1142.8L1306.5 1144.9L1306.7 1147.0L1306.9 1149.1L1307.1 1151.2L1307.4 1153.3L1307.6 1155.4L1307.9 1157.5L1308.2 1159.6L1308.4 1161.6L1308.7 1163.7L1309.0 1165.8L1309.3 1167.9L1309.6 1170.0L1310.0 1172.1L1310.3 1174.2L1310.7 1176.3L1311.0 1178.4L1311.4 1180.5L1311.8 1182.6L1312.2 1184.7L1312.6 1186.8L1313.0 1188.9L1313.4 1191.0L1313.8 1193.1L1314.3 1195.2L1314.7 1197.3L1315.2 1199.4L1315.7 1201.5L1316.2 1203.6L1316.7 1205.6L1317.3 1207.7L1317.9 1209.8L1318.5 1211.9L1319.2 1214.0L1319.9 1216.1L1320.6 1218.2L1321.3 1220.3L1322.1 1222.4L1322.9 1224.5L1323.7 1226.6L1324.5 1228.7L1325.3 1230.8L1326.2 1232.9L1327.1 1235.0L1328.0 1237.1L1329.0 1239.2L1330.0 1241.3L1331.0 1243.4L1332.1 1245.5L1333.2 1247.5L1334.3 1249.6L1335.5 1251.7L1336.7 1253.8L1338.0 1255.9L1339.2 1258.0L1340.5 1260.1L1341.9 1262.2L1343.4 1264.3L1344.9 1266.4L1346.6 1268.5L1348.3 1270.6L1350.0 1272.7L1351.9 1274.8L1353.8 1276.9L1356.0 1279.0L1358.2 1281.1L1360.4 1283.2L1362.6 1285.3L1364.6 1287.4L1366.5 1289.5L1368.4 1291.5L1370.5 1293.6L1372.8 1295.7L1375.4 1297.8L1378.3 1299.9L1381.6 1302.0L1385.0 1304.1L1383.2 1304.1L1385.7 1303.1L1388.2 1301.7L1390.8 1300.4L1393.3 1299.1L1395.8 1297.9L1398.3 1296.8L1400.8 1295.8L1403.4 1294.8L1405.9 1293.9L1408.4 1293.1L1410.9 1292.4L1413.4 1291.8L1416.0 1291.2L1418.5 1290.8L1421.0 1290.4L1423.5 1290.2L1426.0 1290.0L1428.6 1289.9L1431.1 1289.9L1433.6 1290.1L1436.1 1290.2L1438.7 1290.5L1441.2 1290.9L1443.7 1291.3L1446.2 1291.9L1448.7 1292.5L1451.3 1293.1L1453.8 1293.9L1456.3 1294.7L1458.8 1295.5L1461.3 1296.4L1463.9 1297.4L1466.4 1298.3L1468.9 1299.4L1471.4 1300.4L1473.9 1301.5L1476.5 1302.6L1479.0 1303.6L1481.5 1304.7L1484.0 1303.8L1486.6 1302.9L1489.1 1302.2L1491.7 1301.4L1494.2 1300.7L1496.7 1300.0L1499.3 1299.4L1501.8 1298.9L1504.3 1298.3L1506.9 1297.8L1509.4 1297.4L1512.0 1297.1L1514.5 1296.7L1517.0 1296.5L1519.6 1296.3L1522.1 1296.1L1524.7 1296.0L1527.2 1296.0L1529.7 1296.0L1532.3 1296.0L1534.8 1296.1L1537.3 1296.3L1539.9 1296.5L1542.4 1296.8L1545.0 1297.1L1547.5 1297.5L1550.0 1297.9L1552.6 1298.3L1555.1 1298.8L1557.7 1299.3L1560.2 1299.8L1562.7 1300.4L1565.3 1300.9L1567.8 1301.6L1570.3 1302.2L1572.9 1302.8L1575.4 1303.4L1578.0 1304.1L1580.5 1304.7L1583.0 1304.0L1585.6 1303.3L1588.1 1302.7L1590.6 1302.1L1593.1 1301.5L1595.7 1301.0L1598.2 1300.5L1600.7 1300.0L1603.2 1299.6L1605.8 1299.2L1608.3 1298.9L1610.8 1298.6L1613.3 1298.3L1615.9 1298.1L1618.4 1298.0L1620.9 1297.8L1623.4 1297.7L1626.0 1297.7L1628.5 1297.7L1631.0 1297.8L1633.5 1297.9L1636.1 1298.0L1638.6 1298.2L1641.1 1298.4L1643.6 1298.6L1646.2 1298.9L1648.7 1299.2L1651.2 1299.6L1653.7 1300.0L1656.3 1300.4L1658.8 1300.8L1661.3 1301.2L1663.8 1301.7L1666.4 1302.2L1668.9 1302.7L1671.4 1303.2L1673.9 1303.7L1676.5 1304.2L1679.0 1304.7L1681.5 1304.2L1684.1 1303.7L1686.6 1303.3L1689.1 1302.8L1691.6 1302.4L1694.2 1302.1L1696.7 1301.7L1699.2 1301.4L1701.7 1301.1L1704.3 1300.8L1706.8 1300.6L1709.3 1300.3L1711.8 1300.2L1714.4 1300.0L1716.9 1299.9L1719.4 1299.8L1721.9 1299.7L1724.5 1299.7L1727.0 1299.7L1729.5 1299.8L1732.0 1299.8L1734.6 1299.9L1737.1 1300.1L1739.6 1300.2L1742.1 1300.4L1744.7 1300.6L1747.2 1300.8L1749.7 1301.1L1752.2 1301.3L1754.8 1301.6L1757.3 1301.9L1759.8 1302.2L1762.3 1302.6"/>
<path stroke="#000000" d="M174.2 1277.0L176.7 1282.6L179.2 1288.3L181.7 1294.1L184.3 1300.0L186.8 1306.0L189.3 1296.6L191.8 1291.2L194.4 1285.8L196.9 1280.6L199.4 1275.5L201.9 1270.6L204.5 1265.9L207.0 1261.5L209.5 1257.4L212.0 1253.5L214.6 1250.0L217.1 1246.8L219.6 1244.0L222.1 1241.6L224.6 1239.6L227.2 1237.9L229.7 1236.7L232.2 1235.9L234.7 1235.6L237.3 1235.6L239.8 1236.1L242.3 1237.0L244.8 1238.4L247.4 1240.1L249.9 1242.3L252.4 1244.8L254.9 1247.7L257.4 1250.9L260.0 1254.5L262.5 1258.4L265.0 1262.5L267.5 1266.9L270.1 1271.5L272.6 1276.4L275.1 1281.3L277.6 1286.4L280.2 1291.7L282.7 1296.9L285.2 1302.2L287.7 1297.1L290.3 1292.0L292.8 1287.0L295.3 1282.0L297.9 1277.1L300.4 1272.4L303.0 1267.9L305.5 1263.6L308.0 1259.5L310.6 1255.8L313.1 1252.3L315.6 1249.1L318.2 1246.3L320.7 1243.8L323.2 1241.7L325.8 1240.0L328.3 1238.7L330.8 1237.8L333.4 1237.4L335.9 1237.3L338.5 1237.7L341.0 1238.5L343.5 1239.7L346.1 1241.4L348.6 1243.4L351.1 1245.8L353.7 1248.6L356.2 1251.7L358.7 1255.2L361.3 1258.9L363.8 1263.0L366.3 1267.3L368.9 1271.9L371.4 1276.6L374.0 1281.5L376.5 1286.6L379.0 1291.7L381.6 1297.0L384.1 1302.2L386.6 1297.4L389.2 1292.5L391.7 1287.6L394.2 1282.7L396.7 1277.9L399.3 1273.2L401.8 1268.7L404.3 1264.3L406.8 1260.2L409.4 1256.4L411.9 1252.8L414.4 1249.6L416.9 1246.6L419.5 1244.1L422.0 1241.9L424.5 1240.0L427.0 1238.6L429.6 1237.6L432.1 1237.1L434.6 1236.9L437.1 1237.2L439.7 1237.9L442.2 1239.1L444.7 1240.6L447.2 1242.6L449.8 1245.0L452.3 1247.7L454.8 1250.9L457.3 1254.3L459.9 1258.1L462.4 1262.2L464.9 1266.6L467.4 1271.2L470.0 1276.1L472.5 1281.1L475.0 1286.2L477.5 1291.5L480.1 1296.8L482.6 1302.2L485.1 1297.2L487.7 1291.9L490.2 1286.7L492.8 1281.5L495.3 1276.4L497.8 1271.4L500.4 1266.6L502.9 1262.0L505.4 1257.6L508.0 1253.5L510.5 1249.7L513.1 1246.3L515.6 1243.2L518.1 1240.4L520.7 1238.1L523.2 1236.1L525.8 1234.6L528.3 1233.6L530.8 1232.9L533.4 1232.8L535.9 1233.1L538.4 1233.8L541.0 1235.0L543.5 1236.7L546.1 1238.8L548.6 1241.3L551.1 1244.2L553.7 1247.6L556.2 1251.3L558.8 1255.3L561.3 1259.7L563.8 1264.3L566.4 1269.2L568.9 1274.4L571.4 1279.7L574.0 1285.2L576.5 1290.8L579.1 1296.5L581.6 1302.2L584.1 1297.0L586.6 1291.3L589.2 1285.6L591.7 1279.9L594.2 1274.2L596.7 1268.7L599.2 1263.3L601.8 1258.1L604.3 1253.1L606.8 1248.4L609.3 1244.0L611.8 1240.0L614.4 1236.3L616.9 1233.1L619.4 1230.3L621.9 1227.9L624.4 1226.1L627.0 1224.7L629.5 1223.8L632.0 1223.5L634.5 1223.7L637.1 1224.4L639.6 1225.6L642.1 1227.4L644.6 1229.7L647.1 1232.4L649.7 1235.7L652.2 1239.4L654.7 1243.6L657.2 1248.2L659.7 1253.1L662.3 1258.5L664.8 1264.1L667.3 1270.0L669.8 1276.2L672.3 1282.5L674.9 1289.0L677.4 1295.6L679.9 1302.2L682.4 1296.5L684.9 1290.1L687.5 1283.5L690.0 1276.8L692.5 1270.0L695.0 1263.3L697.5 1256.8L700.1 1250.4L702.6 1244.3L705.1 1238.4L707.6 1232.9L710.1 1227.8L712.7 1223.1L715.2 1218.8L717.7 1215.1L720.2 1211.9L722.7 1209.3L725.3 1207.3L727.8 1206.0L730.3 1205.3L732.8 1205.2L735.4 1205.8L737.9 1207.1L740.4 1209.0L742.9 1211.6L745.4 1214.9L748.0 1218.8L750.5 1223.3L753.0 1228.4L755.5 1234.1L758.0 1240.2L760.6 1246.9L763.1 1253.9L765.6 1261.4L768.1 1269.1L770.6 1277.1L773.2 1285.4L775.7 1293.8L778.2 1302.2L780.7 1296.3L783.1 1288.8L785.6 1280.6L788.1 1272.0L790.6 1263.1L793.0 1254.1L795.5 1245.0L798.0 1236.0L800.5 1227.2L802.9 1218.5L805.4 1210.2L807.9 1202.3L810.4 1194.9L812.8 1188.0L815.3 1181.8L817.8 1176.3L820.3 1171.5L822.7 1167.5L825.2 1164.5L827.7 1162.3L830.2 1161.2L832.6 1161.0L835.1 1161.9L837.6 1163.8L840.1 1166.7L842.5 1170.7L845.0 1175.8L847.5 1181.9L850.0 1188.9L852.4 1196.9L854.9 1205.8L857.4 1215.5L859.9 1226.0L862.3 1237.1L864.8 1248.9L867.3 1261.1L869.8 1273.7L872.2 1286.6L874.7 1299.7L878.0 1275.0L881.1 1252.7L886.2 1216.6L887.3 1208.2L888.4 1200.0L889.5 1191.7L890.6 1183.6L891.7 1175.5L892.8 1167.5L893.8 1159.6L894.8 1151.7L895.9 1143.9L896.9 1136.2L897.9 1128.6L898.9 1121.0L899.8 1113.5L900.8 1106.0L901.7 1098.7L902.7 1091.4L903.6 1084.1L904.5 1077.0L905.4 1069.9L906.3 1062.9L907.1 1055.9L908.0 1049.1L908.8 1042.2L909.7 1035.5L910.5 1028.8L911.3 1022.3L912.1 1015.7L912.9 1009.3L913.7 1002.9L914.5 996.6L915.2 990.3L916.0 984.2L916.7 978.1L917.4 972.0L918.2 966.1L918.9 960.2L919.6 954.4L920.3 948.6L921.0 943.0L921.7 937.4L922.3 931.8L923.0 926.3L923.6 921.0L924.3 915.6L924.9 910.4L925.6 905.2L926.2 900.1L926.8 895.0L927.4 890.1L928.0 885.2L928.6 880.3L929.2 875.6L929.8 870.9L930.3 866.3L930.9 861.7L931.5 857.2L932.0 852.8L932.6 848.5L933.1 844.2L933.7 840.0L934.2 835.9L934.7 831.9L935.2 827.9L935.8 824.0L936.3 820.1L936.8 816.3L937.3 812.6L937.8 809.0L938.3 805.4L938.8 802.0L939.3 798.5L939.7 795.2L940.2 791.9L940.7 788.7L941.2 785.6L941.7 782.5L942.1 779.5L942.6 776.6L943.1 773.7L943.5 770.9L944.0 768.2L944.4 765.6L944.9 763.0L945.4 760.5L945.8 758.1L946.3 755.7L946.7 753.4L947.2 751.2L947.6 749.0L948.1 747.0L948.5 744.9L949.0 743.0L949.4 741.1L949.8 739.3L950.3 737.6L950.7 736.0L951.2 734.4L951.6 732.8L952.1 731.4L952.5 730.0L953.0 728.7L953.4 727.5L953.9 726.3L954.3 725.2L954.8 724.2L955.3 723.3L955.7 722.4L956.2 721.6L956.7 720.8L957.1 720.2L957.6 719.6L958.1 719.0L958.5 718.6L959.0 718.2L959.5 717.9L960.0 717.6L960.5 717.4L961.0 717.3L961.1 717.3L961.2 717.3L961.7 717.4L962.2 717.6L962.7 717.9L963.2 718.2L963.7 718.6L964.1 719.0L964.6 719.6L965.1 720.2L965.5 720.8L966.0 721.6L966.5 722.4L966.9 723.3L967.4 724.2L967.9 725.2L968.3 726.3L968.8 727.5L969.2 728.7L969.7 730.0L970.1 731.4L970.6 732.8L971.0 734.4L971.5 736.0L971.9 737.6L972.4 739.3L972.8 741.1L973.2 743.0L973.7 744.9L974.1 747.0L974.6 749.0L975.0 751.2L975.5 753.4L975.9 755.7L976.4 758.1L976.8 760.5L977.3 763.0L977.8 765.6L978.2 768.2L978.7 770.9L979.1 773.7L979.6 776.6L980.1 779.5L980.5 782.5L981.0 785.6L981.5 788.7L982.0 791.9L982.5 795.2L982.9 798.5L983.4 802.0L983.9 805.4L984.4 809.0L984.9 812.6L985.4 816.3L985.9 820.1L986.4 824.0L987.0 827.9L987.5 831.9L988.0 835.9L988.5 840.0L989.1 844.2L989.6 848.5L990.2 852.8L990.7 857.2L991.3 861.7L991.9 866.3L992.4 870.9L993.0 875.6L993.6 880.3L994.2 885.2L994.8 890.1L995.4 895.0L996.0 900.1L996.6 905.2L997.3 910.4L997.9 915.6L998.6 921.0L999.2 926.3L999.9 931.8L1000.5 937.4L1001.2 943.0L1001.9 948.6L1002.6 954.4L1003.3 960.2L1004.0 966.1L1004.8 972.0L1005.5 978.1L1006.2 984.2L1007.0 990.3L1007.7 996.6L1008.5 1002.9L1009.3 1009.3L1010.1 1015.7L1010.9 1022.3L1011.7 1028.8L1012.5 1035.5L1013.4 1042.2L1014.2 1049.1L1015.1 1055.9L1015.9 1062.9L1016.8 1069.9L1017.7 1077.0L1018.6 1084.1L1019.5 1091.4L1020.5 1098.7L1021.4 1106.0L1022.4 1113.5L1023.3 1121.0L1024.3 1128.6L1025.3 1136.2L1026.3 1143.9L1027.4 1151.7L1028.4 1159.6L1029.4 1167.5L1030.5 1175.5L1031.6 1183.6L1032.7 1191.7L1033.8 1200.0L1034.9 1208.2L1036.0 1216.6L1039.0 1235.6L1043.7 1254.6L1047.2 1267.5L1050.2 1277.0L1052.8 1282.4L1054.4 1276.9L1056.0 1272.1L1057.7 1267.7L1059.3 1263.6L1060.9 1259.7L1062.5 1256.1L1064.1 1252.7L1065.7 1249.7L1067.4 1246.9L1069.0 1244.3L1070.6 1242.1L1072.2 1240.1L1073.8 1238.5L1075.5 1237.1L1077.1 1236.1L1078.7 1235.3L1080.3 1234.8L1081.9 1234.7L1083.5 1234.8L1085.2 1235.2L1086.8 1235.8L1088.4 1236.8L1090.0 1237.9L1091.6 1239.4L1093.2 1241.0L1094.9 1242.9L1096.5 1245.0L1098.1 1247.2L1099.7 1249.7L1101.3 1252.2L1103.0 1255.0L1104.6 1257.8L1106.2 1260.8L1107.8 1263.8L1109.4 1267.0L1111.0 1270.1L1112.7 1273.3L1114.3 1276.6L1115.9 1279.8L1117.9 1276.7L1119.9 1272.7L1121.9 1268.2L1124.0 1263.4L1126.0 1258.4L1128.0 1253.3L1130.0 1248.0L1132.0 1242.8L1134.0 1237.6L1136.1 1232.5L1138.1 1227.5L1140.1 1222.8L1142.1 1218.3L1144.1 1214.0L1146.1 1210.2L1148.1 1206.7L1150.2 1203.7L1152.2 1201.2L1154.2 1199.2L1156.2 1197.8L1158.2 1197.0L1160.2 1196.9L1162.3 1197.4L1164.3 1198.6L1166.3 1200.5L1168.3 1203.1L1170.3 1206.4L1172.3 1210.4L1174.3 1215.1L1176.4 1220.4L1178.4 1226.5L1180.4 1233.1L1182.4 1240.2L1184.4 1247.9L1186.4 1256.1L1188.5 1264.6L1190.5 1273.5L1192.5 1282.7L1194.5 1292.0L1194.7 1291.5L1196.8 1279.1L1198.9 1266.7L1200.9 1254.4L1202.7 1242.1L1204.5 1229.9L1206.2 1217.8L1207.8 1205.7L1209.4 1193.7L1210.9 1181.8L1212.3 1169.9L1213.7 1158.1L1215.1 1146.3L1216.4 1134.6L1217.7 1123.0L1218.9 1111.4L1220.1 1099.9L1221.2 1088.5L1222.3 1077.1L1223.4 1065.8L1224.5 1054.5L1225.5 1043.3L1226.5 1032.2L1227.4 1021.1L1228.3 1010.1L1229.2 999.2L1230.1 988.3L1231.0 977.5L1231.8 966.7L1232.6 956.0L1233.4 945.4L1234.1 934.9L1234.9 924.4L1235.6 913.9L1236.4 903.5L1237.1 893.2L1237.8 883.0L1238.5 872.8L1239.2 862.7L1239.8 852.6L1240.5 842.6L1241.2 832.7L1241.8 822.8L1242.5 813.0L1243.1 803.2L1243.7 793.5L1244.3 783.9L1244.9 774.4L1245.5 764.9L1246.1 755.4L1246.7 746.1L1247.3 736.7L1247.9 727.5L1248.4 718.3L1249.0 709.2L1249.5 700.1L1250.1 691.1L1250.6 682.2L1251.1 673.3L1251.7 664.5L1252.2 655.8L1252.7 647.1L1253.2 638.5L1253.7 629.9L1254.2 621.4L1254.7 613.0L1255.1 604.6L1255.6 596.3L1256.1 588.1L1256.5 579.9L1257.0 571.8L1257.4 563.7L1257.9 555.7L1258.3 547.8L1258.7 539.9L1259.2 532.1L1259.6 524.4L1260.0 516.7L1260.4 509.1L1260.8 501.5L1261.2 494.0L1261.6 486.6L1262.0 479.2L1262.4 471.9L1262.8 464.7L1263.1 457.5L1263.5 450.4L1263.9 443.3L1264.2 436.3L1264.6 429.4L1264.9 422.5L1265.3 415.7L1265.6 409.0L1266.0 402.3L1266.3 395.7L1266.7 389.2L1267.0 382.7L1267.3 376.2L1267.7 369.9L1268.0 363.6L1268.3 357.3L1268.6 351.2L1268.9 345.1L1269.2 339.0L1269.6 333.0L1269.9 327.1L1270.2 321.2L1270.5 315.4L1270.8 309.7L1271.1 304.0L1271.4 298.4L1271.7 292.9L1271.9 287.4L1272.2 281.9L1272.5 276.6L1272.8 271.3L1273.1 266.1L1273.4 260.9L1273.7 255.8L1273.9 250.7L1274.2 245.7L1274.5 240.8L1274.8 236.0L1275.1 231.2L1275.3 226.4L1275.6 221.8L1275.9 217.2L1276.1 212.6L1276.4 208.1L1276.7 203.7L1276.9 199.3L1277.2 195.1L1277.5 190.8L1277.7 186.7L1278.0 182.5L1278.3 178.5L1278.5 174.5L1278.8 170.6L1279.0 166.7L1279.3 163.0L1279.5 159.2L1279.8 155.6L1280.0 151.9L1280.3 148.4L1280.5 144.9L1280.8 141.5L1281.0 138.2L1281.3 134.9L1281.5 131.6L1281.7 128.5L1282.0 125.4L1282.2 122.3L1282.4 119.3L1282.7 116.4L1282.9 113.6L1283.1 110.8L1283.4 108.1L1283.6 105.4L1283.8 102.8L1284.0 100.3L1284.3 97.8L1284.5 95.4L1284.7 93.0L1284.9 90.7L1285.1 88.5L1285.3 86.3L1285.6 84.2L1285.8 82.2L1286.0 80.2L1286.2 78.3L1286.4 76.5L1286.6 74.7L1286.8 73.0L1287.0 71.3L1287.2 69.7L1287.4 68.2L1287.6 66.7L1287.7 65.3L1287.9 63.9L1288.1 62.6L1288.3 61.4L1288.5 60.3L1288.7 59.2L1288.8 58.1L1289.0 57.2L1289.2 56.2L1289.4 55.4L1289.5 54.6L1289.7 53.9L1289.9 53.2L1290.0 52.6L1290.2 52.1L1290.3 51.6L1290.5 51.2L1290.7 50.9L1290.8 50.6L1291.0 50.4L1291.1 50.2L1291.3 50.1L1291.4 50.1L1291.5 50.1L1291.6 50.2L1291.8 50.4L1291.9 50.6L1292.0 50.9L1292.2 51.2L1292.3 51.6L1292.5 52.1L1292.6 52.7L1292.8 53.3L1292.9 53.9L1293.1 54.6L1293.3 55.4L1293.4 56.3L1293.6 57.2L1293.8 58.2L1293.9 59.2L1294.1 60.3L1294.3 61.5L1294.5 62.7L1294.7 64.0L1294.8 65.4L1295.0 66.8L1295.2 68.3L1295.4 69.8L1295.6 71.4L1295.8 73.1L1296.0 74.8L1296.2 76.6L1296.5 78.5L1296.7 80.4L1296.9 82.4L1297.1 84.4L1297.3 86.6L1297.5 88.7L1297.8 91.0L1298.0 93.3L1298.2 95.6L1298.4 98.1L1298.7 100.6L1298.9 103.1L1299.1 105.7L1299.4 108.4L1299.6 111.2L1299.8 114.0L1300.1 116.8L1300.3 119.8L1300.6 122.8L1300.8 125.8L1301.1 128.9L1301.3 132.1L1301.6 135.4L1301.8 138.7L1302.1 142.1L1302.3 145.5L1302.6 149.0L1302.8 152.6L1303.1 156.2L1303.4 159.9L1303.6 163.6L1303.9 167.4L1304.1 171.3L1304.4 175.3L1304.7 179.3L1304.9 183.3L1305.2 187.5L1305.5 191.7L1305.7 195.9L1306.0 200.2L1306.3 204.6L1306.5 209.1L1306.8 213.6L1307.1 218.2L1307.3 222.8L1307.6 227.5L1307.9 232.3L1308.2 237.1L1308.4 242.0L1308.7 246.9L1309.0 251.9L1309.2 257.0L1309.5 262.2L1309.8 267.4L1310.1 272.6L1310.3 278.0L1310.6 283.3L1310.9 288.8L1311.2 294.3L1311.4 299.9L1311.7 305.6L1312.0 311.3L1312.3 317.0L1312.6 322.9L1312.8 328.8L1313.1 334.7L1313.4 340.7L1313.7 346.8L1314.0 353.0L1314.3 359.2L1314.6 365.5L1314.9 371.8L1315.2 378.2L1315.5 384.7L1315.9 391.2L1316.2 397.8L1316.5 404.5L1316.8 411.2L1317.1 417.9L1317.5 424.8L1317.8 431.7L1318.2 438.7L1318.5 445.7L1318.9 452.8L1319.2 460.0L1319.6 467.2L1319.9 474.5L1320.3 481.8L1320.7 489.2L1321.1 496.7L1321.4 504.2L1321.8 511.8L1322.2 519.5L1322.6 527.2L1323.0 535.0L1323.5 542.9L1323.9 550.8L1324.3 558.8L1324.7 566.8L1325.2 574.9L1325.6 583.1L1326.1 591.3L1326.6 599.6L1327.0 608.0L1327.5 616.4L1328.0 624.9L1328.5 633.4L1329.0 642.0L1329.5 650.7L1330.0 659.4L1330.5 668.2L1331.1 677.1L1331.6 686.0L1332.2 695.0L1332.7 704.1L1333.3 713.2L1333.9 722.3L1334.5 731.6L1335.1 740.9L1335.7 750.3L1336.3 759.7L1336.9 769.2L1337.6 778.7L1338.2 788.4L1338.9 798.0L1339.5 807.8L1340.2 817.6L1340.9 827.5L1341.6 837.4L1342.3 847.4L1343.0 857.4L1343.7 867.6L1344.5 877.8L1345.2 888.0L1346.0 898.3L1346.8 908.7L1347.6 919.1L1348.4 929.6L1349.2 940.2L1350.0 950.8L1350.9 961.5L1351.7 972.3L1352.6 983.1L1353.5 994.0L1354.4 1004.9L1355.3 1015.9L1356.3 1027.0L1357.2 1038.1L1358.2 1049.3L1359.2 1060.6L1360.2 1071.9L1361.2 1083.3L1362.3 1094.7L1363.3 1106.2L1364.4 1117.8L1365.5 1129.5L1366.7 1141.2L1367.8 1152.9L1369.0 1164.7L1370.2 1176.6L1371.4 1188.6L1372.6 1200.6L1373.9 1212.7L1375.3 1224.8L1376.8 1237.0L1378.3 1249.3L1379.9 1261.6L1381.4 1274.0L1383.0 1286.5L1384.4 1299.0L1386.8 1275.4L1389.3 1256.8L1391.8 1239.9L1394.3 1224.5L1396.8 1210.3L1399.3 1197.3L1401.7 1185.3L1404.2 1174.6L1406.7 1164.9L1409.2 1156.4L1411.7 1149.0L1414.2 1142.7L1416.7 1137.5L1419.2 1133.4L1421.7 1130.4L1424.2 1128.5L1426.7 1127.7L1429.2 1127.9L1431.7 1129.1L1434.1 1131.4L1436.6 1134.5L1439.1 1138.6L1441.6 1143.6L1444.1 1149.4L1446.6 1156.0L1449.1 1163.3L1451.6 1171.4L1454.1 1180.1L1456.6 1189.3L1459.1 1199.1L1461.6 1209.4L1464.1 1220.2L1466.5 1231.2L1469.0 1242.6L1471.5 1254.3L1474.0 1266.1L1476.5 1278.1L1479.0 1290.2L1481.5 1302.2L1484.0 1290.6L1486.6 1280.2L1489.1 1270.3L1491.7 1261.0L1494.2 1252.1L1496.8 1243.8L1499.3 1235.9L1501.9 1228.7L1504.4 1222.0L1507.0 1215.9L1509.5 1210.4L1512.1 1205.6L1514.6 1201.4L1517.2 1198.0L1519.7 1195.2L1522.3 1193.1L1524.8 1191.7L1527.4 1191.0L1529.9 1191.0L1532.5 1191.7L1535.0 1193.1L1537.6 1195.2L1540.1 1197.8L1542.7 1201.1L1545.2 1205.0L1547.8 1209.5L1550.3 1214.5L1552.9 1220.0L1555.4 1226.0L1558.0 1232.4L1560.5 1239.1L1563.1 1246.3L1565.6 1253.7L1568.2 1261.4L1570.7 1269.3L1573.3 1277.4L1575.8 1285.6L1578.4 1293.9L1580.9 1302.2L1583.4 1293.7L1585.9 1285.8L1588.5 1278.4L1591.0 1271.2L1593.5 1264.4L1596.0 1258.0L1598.5 1251.9L1601.1 1246.2L1603.6 1241.0L1606.1 1236.2L1608.6 1231.9L1611.1 1228.0L1613.7 1224.7L1616.2 1221.9L1618.7 1219.6L1621.2 1217.9L1623.7 1216.7L1626.3 1216.1L1628.8 1216.0L1631.3 1216.4L1633.8 1217.4L1636.4 1218.9L1638.9 1220.9L1641.4 1223.4L1643.9 1226.3L1646.4 1229.7L1649.0 1233.6L1651.5 1237.8L1654.0 1242.5L1656.5 1247.4L1659.0 1252.7L1661.6 1258.3L1664.1 1264.1L1666.6 1270.2L1669.1 1276.4L1671.6 1282.7L1674.2 1289.2L1676.7 1295.7L1679.2 1302.2L1680.9 1298.1L1682.5 1294.1L1684.2 1290.1L1685.9 1286.1L1687.5 1282.2L1689.2 1278.4L1690.9 1274.7L1692.5 1271.0L1694.2 1267.4L1695.8 1264.0L1697.5 1260.6L1699.2 1257.4L1700.8 1254.3L1702.5 1251.3L1704.2 1248.5L1705.8 1245.8L1707.5 1243.3L1709.2 1241.0L1710.8 1238.8L1712.5 1236.8L1714.2 1235.1L1715.8 1233.5L1717.5 1232.1L1719.1 1230.9L1720.8 1229.9L1722.5 1229.1L1724.1 1228.5L1725.8 1228.2L1727.5 1228.0L1729.1 1228.1L1730.8 1228.3L1732.5 1228.8L1734.1 1229.5L1735.8 1230.5L1737.5 1231.6L1739.1 1232.9L1740.8 1234.4L1742.4 1236.2L1744.1 1238.1L1745.8 1240.2L1747.4 1242.5L1749.1 1244.9L1750.8 1247.6L1752.4 1250.4L1754.1 1253.3L1755.8 1256.4L1757.4 1259.7L1759.1 1263.1L1760.8 1266.6L1762.4 1270.2L1764.1 1273.9"/>
</g>
<g class="tk"><text x="154.2" y="1317.4" text-anchor="end">0</text><text x="154.2" y="1191.8" text-anchor="end">0.1</text><text x="154.2" y="1066.2" text-anchor="end">0.2</text><text x="154.2" y="940.6" text-anchor="end">0.3</text><text x="154.2" y="815.0" text-anchor="end">0.4</text><text x="154.2" y="689.4" text-anchor="end">0.5</text><text x="154.2" y="563.8" text-anchor="end">0.6</text><text x="154.2" y="438.2" text-anchor="end">0.7</text><text x="154.2" y="312.6" text-anchor="end">0.8</text><text x="154.2" y="187.0" text-anchor="end">0.9</text><text x="154.2" y="61.4" text-anchor="end">1</text><text x="173.6" y="1365" text-anchor="middle"><tspan dy="5" textLength="35.5" lengthAdjust="spacingAndGlyphs">−</tspan><tspan dy="-5">0.5</tspan></text><text x="332.7" y="1365" text-anchor="middle"><tspan dy="5" textLength="35.5" lengthAdjust="spacingAndGlyphs">−</tspan><tspan dy="-5">0.4</tspan></text><text x="491.8" y="1365" text-anchor="middle"><tspan dy="5" textLength="35.5" lengthAdjust="spacingAndGlyphs">−</tspan><tspan dy="-5">0.3</tspan></text><text x="651.0" y="1365" text-anchor="middle"><tspan dy="5" textLength="35.5" lengthAdjust="spacingAndGlyphs">−</tspan><tspan dy="-5">0.2</tspan></text><text x="810.1" y="1365" text-anchor="middle"><tspan dy="5" textLength="35.5" lengthAdjust="spacingAndGlyphs">−</tspan><tspan dy="-5">0.1</tspan></text><text x="969.2" y="1365" text-anchor="middle">0</text><text x="1128.3" y="1365" text-anchor="middle">0.1</text><text x="1287.4" y="1365" text-anchor="middle">0.2</text><text x="1446.6" y="1365" text-anchor="middle">0.3</text><text x="1605.7" y="1365" text-anchor="middle">0.4</text><text x="1764.8" y="1365" text-anchor="middle">0.5</text></g>
<text class="lb" x="969.5" y="1440" text-anchor="middle">Doppler shift</text>
<text class="lb" transform="translate(65.4 677) rotate(-90)" text-anchor="middle">Amplitude</text>
<rect x="224" y="97.5" width="479.5" height="184" fill="#fff" stroke="#333" stroke-width="2"/>
<path stroke="#ff0000" stroke-width="4.7" d="M239 133.1H347"/>
<path stroke="#0000ff" stroke-width="4.7" d="M239 189.4H347"/>
<path stroke="#000000" stroke-width="4.7" d="M239 245.2H347"/>
<g class="lg">
<text x="357.2" y="151.2">SNR = 0 dB</text>
<text x="357.2" y="207.5">SNR = 5 dB</text>
<text x="357.2" y="263.4">interfering signal</text>
</g>
</svg>
</body></html>
